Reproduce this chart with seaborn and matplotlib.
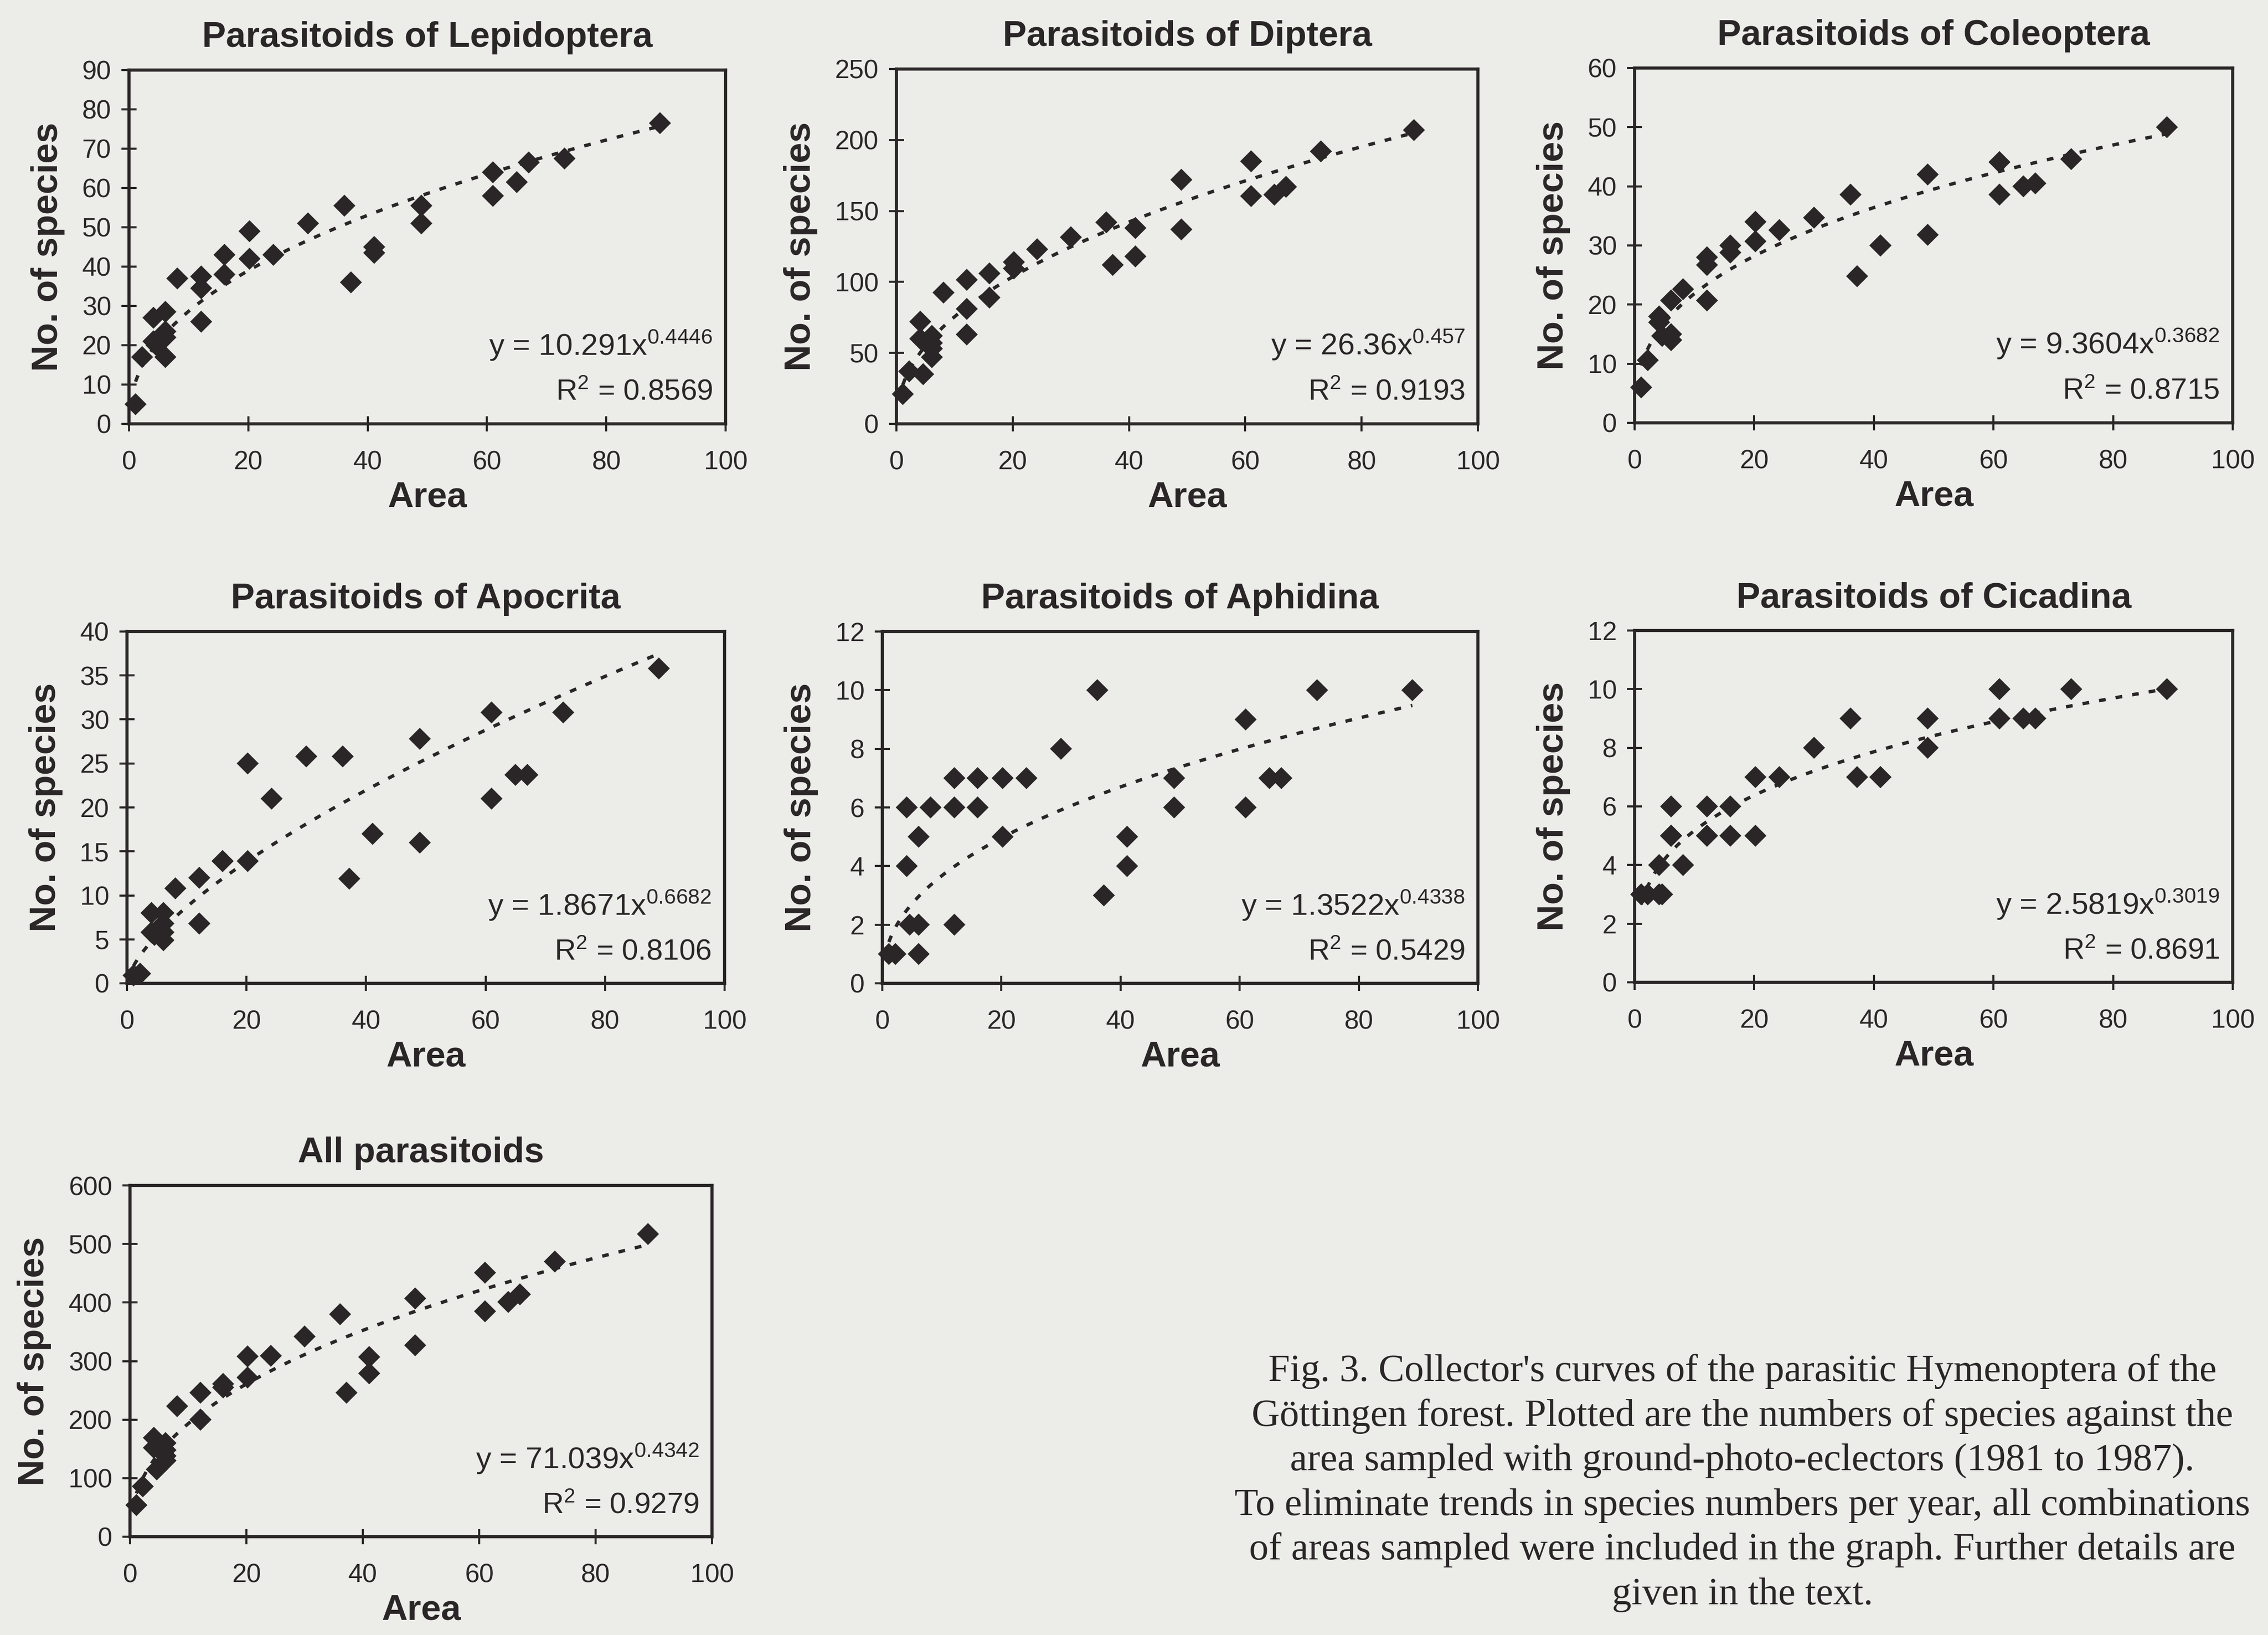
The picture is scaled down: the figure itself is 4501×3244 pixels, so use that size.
import numpy as np
import pandas as pd
import matplotlib
matplotlib.use("Agg")
import matplotlib.pyplot as plt
import seaborn as sns

# Scanned-page look: pale grey paper, near-black ink
PAPER = "#ECECE9"
INK = "#2A2627"
FIG_W, FIG_H = 4501, 3244

# --- Data ---
# areas sampled (shared by all panels, combinations of sampled areas)
AREA = [1.1, 2.2, 4.1, 4.1, 4.6, 6.1, 6.1, 6.1, 6.1, 8.1, 12.1, 12.1, 12.1,
        16.0, 16.0, 20.2, 20.2, 24.2, 30.0, 36.1, 37.2, 41.1, 41.1, 49.0,
        49.0, 61.0, 61.0, 65.0, 67.0, 73.0, 89.0]

LEPIDOPTERA = [5, 17, 27, 21, 20, 28.5, 23.5, 22, 17, 37, 37.5, 34.5, 26, 43,
               38, 49, 42, 43, 51, 55.5, 36, 45, 43.5, 55.5, 51, 64, 58, 61.5,
               66.5, 67.5, 76.5]
DIPTERA = [21, 37, 72, 60, 35, 62, 57, 53, 47, 92.5, 101.5, 81, 63, 106, 89,
           114, 109.5, 123, 131.5, 142, 112, 138, 118, 172, 137, 185, 160.5,
           161.5, 167, 192, 207]
COLEOPTERA = [6, 10.6, 18, 17, 14.7, 14, 20.7, 15, 14, 22.6, 28, 26.7, 20.7,
              30, 28.8, 34, 30.7, 32.6, 34.7, 38.6, 24.8, 30, 30, 42, 31.8,
              44.1, 38.6, 40, 40.5, 44.6, 50]
APOCRITA = [0.9, 1.1, 8, 5.8, 5.5, 8, 6.8, 5.8, 4.9, 10.8, 12, 6.8, 6.8, 13.9,
            13.9, 25, 13.9, 21, 25.8, 25.8, 11.9, 17, 17, 27.8, 16, 30.8, 21,
            23.7, 23.7, 30.8, 35.8]
APHIDINA = [1, 1, 6, 4, 2, 5, 2, 1, 2, 6, 7, 6, 2, 7, 6, 7, 5, 7, 8, 10, 3, 5,
            4, 7, 6, 9, 6, 7, 7, 10, 10]
CICADINA = [3, 3, 4, 3, 3, 6, 5, 5, 5, 4, 6, 5, 5, 6, 5, 7, 5, 7, 8, 9, 7, 7,
            7, 9, 8, 10, 9, 9, 9, 10, 10]
ALL_PARASITOIDS = [54, 86, 169, 152, 115, 160, 148, 138, 130, 223, 246, 200,
                   200, 261, 255, 308, 272, 309, 342, 380, 246, 307, 279, 407,
                   327, 451, 385, 401, 414, 470, 517]

TITLES = ["Parasitoids of Lepidoptera", "Parasitoids of Diptera",
          "Parasitoids of Coleoptera", "Parasitoids of Apocrita",
          "Parasitoids of Aphidina", "Parasitoids of Cicadina",
          "All parasitoids"]
SPECIES = [LEPIDOPTERA, DIPTERA, COLEOPTERA, APOCRITA, APHIDINA, CICADINA,
           ALL_PARASITOIDS]
Y_MAX = [90, 250, 60, 40, 12, 12, 600]
Y_STEP = [10, 50, 10, 5, 2, 2, 100]

# power trendlines printed on the panels: y = a * x^b
FIT_A = ["10.291", "26.36", "9.3604", "1.8671", "1.3522", "2.5819", "71.039"]
FIT_B = ["0.4446", "0.457", "0.3682", "0.6682", "0.4338", "0.3019", "0.4342"]
FIT_R2 = ["0.8569", "0.9193", "0.8715", "0.8106", "0.5429", "0.8691", "0.9279"]

CAPTION = [
    "Fig. 3. Collector's curves of the parasitic Hymenoptera of the",
    "Göttingen forest. Plotted are the numbers of species against the",
    "area sampled with ground-photo-eclectors (1981 to 1987).",
    "To eliminate trends in species numbers per year, all combinations",
    "of areas sampled were included in the graph. Further details are",
    "given in the text.",
]

# --- Layout (pixel boxes of each plot area: left, top, right, bottom) ---
AXES_PX = [
    (256, 139, 1440, 841),
    (1779, 137, 2933, 841),
    (3244, 135, 4431, 839),
    (252, 1253, 1438, 1951),
    (1751, 1253, 2933, 1951),
    (3244, 1251, 4431, 1949),
    (258, 2352, 1413, 3049),
]
CAPTION_X = 3458
CAPTION_BASELINES = [2740, 2829, 2917, 3006, 3094, 3183]

sns.set_theme(style="white")
plt.rcParams.update({
    "font.family": ["Liberation Sans", "DejaVu Sans"],
    "mathtext.default": "regular",
    "figure.facecolor": PAPER,
    "axes.facecolor": PAPER,
    "axes.edgecolor": INK,
    "text.color": INK,
    "axes.labelcolor": INK,
    "xtick.color": INK,
    "ytick.color": INK,
})


def px_rect(left, top, right, bottom):
    return [left / FIG_W, 1 - bottom / FIG_H,
            (right - left) / FIG_W, (bottom - top) / FIG_H]


fig = plt.figure(figsize=(FIG_W / 300, FIG_H / 300), dpi=300)

for i, title in enumerate(TITLES):
    ax = fig.add_axes(px_rect(*AXES_PX[i]))
    points = pd.DataFrame({"Area": AREA, "Species": SPECIES[i]})

    a, b = float(FIT_A[i]), float(FIT_B[i])
    grid = np.linspace(min(AREA), max(AREA), 300)
    trend = pd.DataFrame({"Area": grid, "Species": a * grid ** b})

    sns.lineplot(data=trend, x="Area", y="Species", ax=ax, color=INK,
                 linewidth=1.6, linestyle=(0, (2.0, 3.0)), zorder=2)
    sns.scatterplot(data=points, x="Area", y="Species", ax=ax, marker="D",
                    s=55, color=INK, edgecolor="none", clip_on=False, zorder=3)

    ax.set_xlim(0, 100)
    ax.set_ylim(0, Y_MAX[i])
    ax.set_xticks(range(0, 101, 20))
    ax.set_yticks(np.arange(0, Y_MAX[i] + 1, Y_STEP[i]))

    for sp in ax.spines.values():
        sp.set_visible(True)
        sp.set_color(INK)
        sp.set_linewidth(1.5)
    ax.tick_params(axis="both", direction="inout", length=7, width=1.0,
                   labelsize=12.5, bottom=True, left=True)
    ax.tick_params(axis="x", pad=9)
    ax.tick_params(axis="y", pad=5)

    ax.set_title(title, fontsize=17, fontweight="bold", pad=11)
    ax.set_xlabel("Area", fontsize=17, fontweight="bold", labelpad=3)
    ax.set_ylabel("No. of species", fontsize=17.5, fontweight="bold",
                  labelpad=8)

    ax.text(0.978, 0.194, rf"y = {FIT_A[i]}x$^{{{FIT_B[i]}}}$",
            transform=ax.transAxes, ha="right", va="baseline", fontsize=14.5)
    ax.text(0.978, 0.067, rf"R$^2$ = {FIT_R2[i]}",
            transform=ax.transAxes, ha="right", va="baseline", fontsize=14)

for line, base in zip(CAPTION, CAPTION_BASELINES):
    fig.text(CAPTION_X / FIG_W, 1 - base / FIG_H, line, ha="center",
             va="baseline", fontsize=18.5,
             family=["Liberation Serif", "DejaVu Serif"])

fig.savefig("out.png", dpi=300, facecolor=PAPER)
plt.close(fig)
